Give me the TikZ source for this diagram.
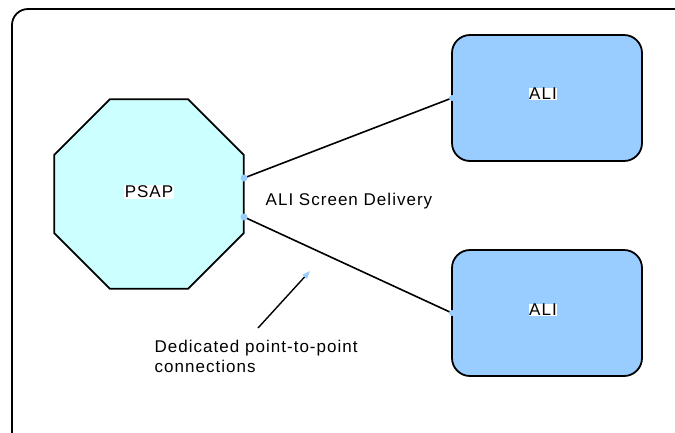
\documentclass[tikz,border=0pt]{standalone}
\usepackage{fontspec}
\setmainfont{Liberation Sans}[LetterSpace=6]
\usetikzlibrary{shapes.geometric,arrows.meta}
\definecolor{octfill}{HTML}{CCFFFF}
\definecolor{alifill}{HTML}{99CCFF}
\definecolor{dotblue}{HTML}{99CCFF}
\tikzset{
  frame/.style={draw=black, line width=1.8pt, rounded corners=16pt},
  octo/.style={regular polygon, regular polygon sides=8, draw=black, fill=octfill, line width=1.8pt, minimum size=205pt, inner sep=0pt, outer sep=0pt},
  alibox/.style={draw=black, fill=alifill, line width=1.8pt, rounded corners=18pt, minimum width=190pt, minimum height=126pt, inner sep=0pt, outer sep=0pt},
  lbl/.style={font=\fontsize{17}{20}\selectfont, inner sep=0.5pt},
  whitelbl/.style={lbl, fill=white},
  conn/.style={draw=black, line width=1.6pt},
  dot/.style={fill=dotblue},
  pointer/.style={draw=black, line width=1.4pt, -{Triangle[length=8pt, width=6pt, color=dotblue]}}
}
\begin{document}
\begin{tikzpicture}[x=1pt,y=-1pt]
\useasboundingbox (0,0) rectangle (675,432);
\begin{scope}
\clip (0,0) rectangle (675,432);
\draw[frame] (12,9) rectangle (692,450);
\end{scope}
\node[octo] (psap) at (149,194) {};
\node[whitelbl] (psaplbl) at (149,192) {PSAP};
\node[alibox] (ali1) at (547,98) {};
\node[alibox] (ali2) at (547,313) {};
\node[whitelbl] (ali1lbl) at (543,94) {ALI};
\node[whitelbl] (ali2lbl) at (543,310) {ALI};
\coordinate (p1) at (244,178);
\coordinate (p2) at (244,217);
\draw[conn] (p1) -- (ali1.west);
\draw[conn] (p2) -- (ali2.west);
\fill[dot] (p1) circle (3.5);
\fill[dot] (p2) circle (3.5);
\fill[dot] (ali1.west) circle (3);
\fill[dot] (ali2.west) circle (3);
\node[lbl, anchor=west] (screen) at (265,201) {ALI Screen Delivery};
\node[lbl, anchor=north west, align=left] (ded) at (154,339) {Dedicated point-to-point\\connections};
\coordinate (atail) at (258,328);
\coordinate (ahead) at (310,271);
\draw[pointer] (atail) -- (ahead);
\end{tikzpicture}
\end{document}
